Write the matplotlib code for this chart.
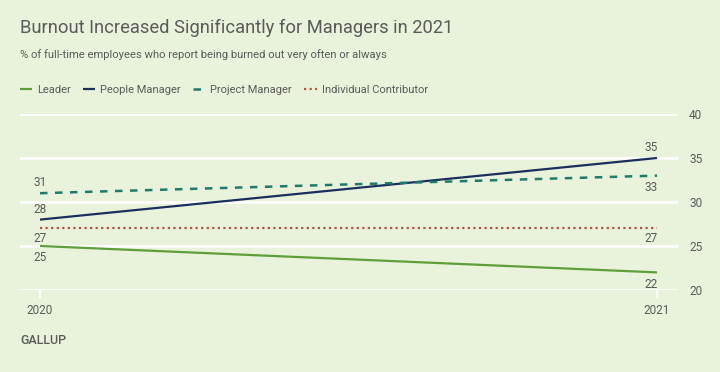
import matplotlib
matplotlib.use("Agg")
import matplotlib.pyplot as plt

years = [2020, 2021]
series_names = ["Leader", "People Manager", "Project Manager", "Individual Contributor"]
leader = [25, 22]
people_manager = [28, 35]
project_manager = [31, 33]
individual_contributor = [27, 27]
y_ticks = [20, 25, 30, 35, 40]

plt.rcParams['font.family'] = ['Roboto', 'DejaVu Sans']
BG = '#E9F3DB'
TXT = '#5A5A5A'

fig = plt.figure(figsize=(7.2, 3.72), dpi=100, facecolor=BG)
W, H = 720, 372
left, right = 20 / W, 678 / W
bottom, top = 1 - 290 / H, 1 - 114 / H
ax = fig.add_axes([left, bottom, right - left, top - bottom], facecolor=BG)

x0px, x1px = 40, 657
ppy = x1px - x0px
ax.set_xlim(2020 - (x0px - 20) / ppy, 2021 + (678 - x1px) / ppy)
ax.set_ylim(20, 40)

styles = [
    dict(color='#5E9F3A', lw=1.6, ls='-'),
    dict(color='#1A2F5E', lw=1.6, ls='-'),
    dict(color='#1E7B6B', lw=1.8, ls=(0, (3, 3))),
    dict(color='#B3543D', lw=1.6, ls=(0, (1, 1.5))),
]
data = [leader, people_manager, project_manager, individual_contributor]
handles = []
for name, vals, st in zip(series_names, data, styles):
    h, = ax.plot(years, vals, label=name, zorder=3, solid_capstyle='butt', **st)
    handles.append(h)

# value labels: offset in points (positive = above)
offs = {
    "Leader": (-8.5, -8.5),
    "People Manager": (7.5, 7.5),
    "Project Manager": (7.5, -8.5),
    "Individual Contributor": (-7, -7.5),
}
for name, vals in zip(series_names, data):
    o0, o1 = offs[name]
    ax.annotate(str(vals[0]), (years[0], vals[0]), xytext=(0, o0), textcoords='offset points',
                ha='center', va='center', fontsize=8.5, color=TXT)
    ax.annotate(str(vals[1]), (years[1], vals[1]), xytext=(-4, o1), textcoords='offset points',
                ha='center', va='center', fontsize=8.5, color=TXT)

ax.set_yticks(y_ticks)
ax.yaxis.tick_right()
ax.tick_params(axis='y', length=0, pad=8, labelsize=8.5, labelcolor=TXT)
ax.set_xticks(years)
ax.tick_params(axis='x', length=6, width=1.5, color='white', pad=4, labelsize=8.5, labelcolor=TXT)
ax.grid(axis='y', color='white', lw=2, zorder=1)
ax.set_axisbelow(True)
for s in ax.spines.values():
    s.set_visible(False)

fig.text(20 / W, 1 - 28 / H, "Burnout Increased Significantly for Managers in 2021",
         fontsize=13.2, color=TXT, va='center', ha='left')
fig.text(20 / W, 1 - 55 / H, "% of full-time employees who report being burned out very often or always",
         fontsize=8.15, color=TXT, va='center', ha='left')
fig.legend(handles=handles, loc='center left', bbox_to_anchor=(10 / W, 1 - 90 / H), ncol=4,
           frameon=False, fontsize=8, handlelength=1.1, handletextpad=0.45, columnspacing=1.1,
           labelcolor=TXT)
fig.text(20 / W, 1 - 341 / H, "GALLUP", fontsize=9, color=TXT, va='center', ha='left',
         fontweight='medium')

fig.savefig("out.png", dpi=100, facecolor=BG)
